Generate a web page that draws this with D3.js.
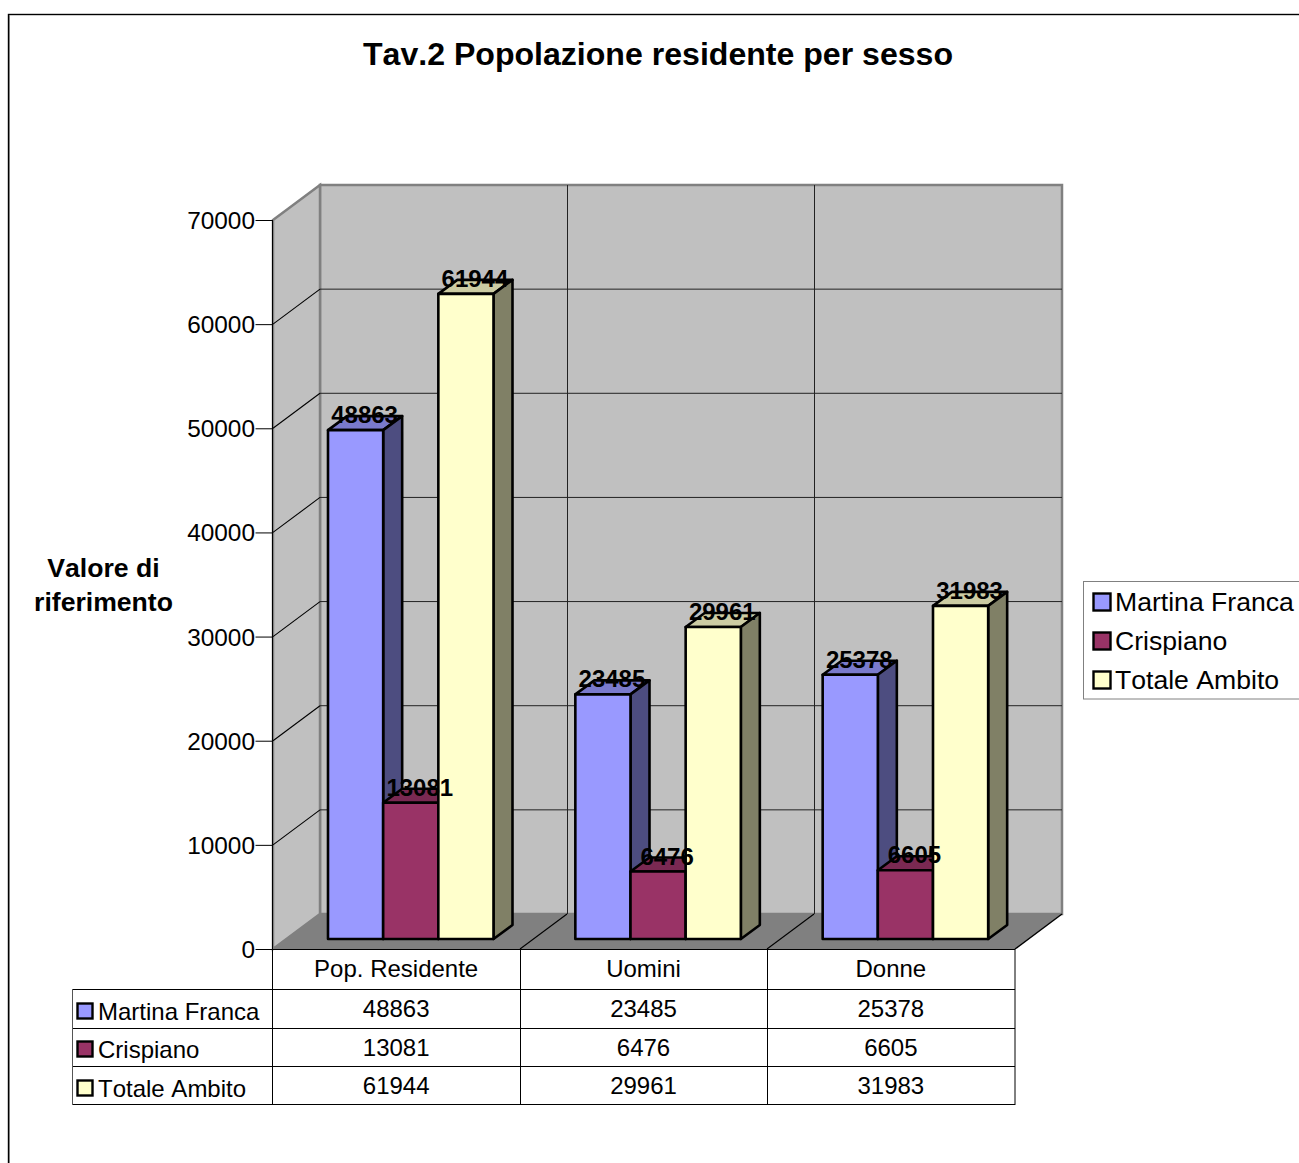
<!DOCTYPE html>
<html>
<head>
<meta charset="utf-8">
<style>
html,body{margin:0;padding:0;background:#fff;overflow:hidden}
svg{display:block}
text{font-family:"Liberation Sans",Arial,sans-serif;fill:#000;font-kerning:none}
</style>
<script src="https://cdn.jsdelivr.net/npm/d3@7/dist/d3.min.js"></script>
</head>
<body>
<svg id="chart" width="1299" height="1163"></svg>
<script>
const chartTitle = "Tav.2 Popolazione residente per sesso";
const axisTitle = ["Valore di", "riferimento"];
const categories = ["Pop. Residente", "Uomini", "Donne"];
const seriesNames = ["Martina Franca", "Crispiano", "Totale Ambito"];
const martinaFranca = [48863, 23485, 25378];
const crispiano = [13081, 6476, 6605];
const totaleAmbito = [61944, 29961, 31983];
const seriesValues = [martinaFranca, crispiano, totaleAmbito];
const yTicks = [0, 10000, 20000, 30000, 40000, 50000, 60000, 70000];
const fronts = ["#9999FF", "#993366", "#FFFFCC"];
const sides = ["#4D4D80", "#4D1A33", "#808066"];
const tops = ["#7A7ACC", "#7A2952", "#CCCCA3"];

const svg = d3.select("#chart");

// Oblique projection of the plot box
const plotLeft = 273, plotRight = 1015, depthX = 47, depthY = 35;
const y = d3.scaleLinear().domain([0, 70000]).range([949, 220]);
const x = d3.scaleBand().domain(categories).range([plotLeft, plotRight]);
const series = d3.scaleBand().domain(seriesNames).range([0, 165.5]);
const barDepthX = 19, barDepthY = 14, barInsetX = 55, barInsetY = 10;
const poly = pts => pts.map(p => p.join(",")).join(" ");

// Outer chart frame
svg.append("rect").attr("x", 8.5).attr("y", 14.5).attr("width", 1400).attr("height", 1300)
  .attr("fill", "#fff").attr("stroke", "#000").attr("stroke-width", 1.4);
svg.append("line").attr("x1", 9.5).attr("x2", 9.5).attr("y1", 15).attr("y2", 1163)
  .attr("stroke", "#808080").attr("stroke-width", 1);

svg.append("text").attr("x", 658).attr("y", 65).attr("text-anchor", "middle")
  .attr("font-size", 32.1).attr("font-weight", "bold").text(chartTitle);

svg.append("text").attr("text-anchor", "middle").attr("font-size", 26.6).attr("font-weight", "bold")
  .selectAll("tspan").data(axisTitle).join("tspan")
  .attr("x", 103.5).attr("y", (d, i) => 577 + i * 34).text(d => d);

// Walls and floor
const y0 = y(0), yMax = y(70000);
svg.append("polygon")
  .attr("points", poly([[plotLeft + depthX, yMax - depthY], [plotRight + depthX, yMax - depthY], [plotRight + depthX, y0 - depthY], [plotLeft + depthX, y0 - depthY]]))
  .attr("fill", "#C0C0C0").attr("stroke", "#808080").attr("stroke-width", 2.5);
svg.append("polygon")
  .attr("points", poly([[plotLeft, yMax], [plotLeft + depthX, yMax - depthY], [plotLeft + depthX, y0 - depthY], [plotLeft, y0]]))
  .attr("fill", "#C0C0C0").attr("stroke", "#808080").attr("stroke-width", 2.5);
svg.append("polygon")
  .attr("points", poly([[plotLeft, y0], [plotLeft + depthX, y0 - depthY], [plotRight + depthX, y0 - depthY], [plotRight, y0]]))
  .attr("fill", "#808080");

// Gridlines on the back and side walls
yTicks.filter(t => t > 0 && t < 70000).forEach(t => {
  svg.append("line").attr("x1", plotLeft + depthX).attr("x2", plotRight + depthX)
    .attr("y1", y(t) - depthY).attr("y2", y(t) - depthY).attr("stroke", "#222").attr("stroke-width", 1);
  svg.append("line").attr("x1", plotLeft).attr("x2", plotLeft + depthX)
    .attr("y1", y(t)).attr("y2", y(t) - depthY).attr("stroke", "#000").attr("stroke-width", 1.1);
});
categories.slice(1).forEach(c => {
  const cx = Math.floor(x(c));
  svg.append("line").attr("x1", cx + depthX + 0.5).attr("x2", cx + depthX + 0.5)
    .attr("y1", yMax - depthY).attr("y2", y0 - depthY).attr("stroke", "#222").attr("stroke-width", 1);
  svg.append("line").attr("x1", cx).attr("x2", cx + depthX)
    .attr("y1", y0).attr("y2", y0 - depthY).attr("stroke", "#000").attr("stroke-width", 1.1);
});
svg.append("line").attr("x1", plotRight).attr("x2", plotRight + depthX)
  .attr("y1", y0).attr("y2", y0 - depthY).attr("stroke", "#000").attr("stroke-width", 1.4);

// Value axis
const axis = d3.axisLeft(y).tickValues(yTicks).tickSize(17).tickPadding(0.5).tickFormat(d3.format("d"));
const axisG = svg.append("g").attr("transform", `translate(${plotLeft - 0.5},0)`).call(axis);
axisG.selectAll("text").attr("font-size", 24.4).attr("dy", "0.35em").attr("font-family", "Liberation Sans");
axisG.selectAll(".tick line").attr("stroke", "#000");
axisG.select(".domain").attr("stroke", "#000").attr("d", `M0,${y0}V${yMax}`);

// Bars: each one is a front face, a top and a right side
const barBase = y0 - barInsetY;
const barHeight = v => y0 - y(v);
const barsG = svg.append("g").attr("stroke", "#000").attr("stroke-width", 2.6).attr("stroke-linejoin", "round");
categories.forEach((c, ci) => {
  seriesNames.forEach((s, si) => {
    const v = seriesValues[si][ci];
    const left = x(c) + barInsetX + series(s);
    const right = left + series.bandwidth();
    const top = barBase - barHeight(v);
    barsG.append("polygon")
      .attr("points", poly([[left, top], [left + barDepthX, top - barDepthY], [right + barDepthX, top - barDepthY], [right, top]]))
      .attr("fill", tops[si]);
    barsG.append("polygon")
      .attr("points", poly([[right, top], [right + barDepthX, top - barDepthY], [right + barDepthX, barBase - barDepthY], [right, barBase]]))
      .attr("fill", sides[si]);
    barsG.append("rect").attr("x", left).attr("y", top)
      .attr("width", series.bandwidth()).attr("height", barHeight(v)).attr("fill", fronts[si]);
  });
});

// Value labels sit over the bar tops
categories.forEach((c, ci) => {
  seriesNames.forEach((s, si) => {
    const v = seriesValues[si][ci];
    const left = x(c) + barInsetX + series(s);
    svg.append("text").attr("x", left + series.bandwidth() / 2 + 9).attr("y", barBase - barHeight(v) - 7)
      .attr("text-anchor", "middle").attr("font-size", 24).attr("font-weight", "bold").text(v);
  });
});

// Data table under the plot
const rowLines = [949, 989, 1028, 1066, 1104];
const tableLeft = 72;
const tableG = svg.append("g").attr("stroke", "#000").attr("stroke-width", 1);
tableG.append("line").attr("x1", plotLeft).attr("x2", plotRight).attr("y1", rowLines[0] + 0.5).attr("y2", rowLines[0] + 0.5);
rowLines.slice(1).forEach(r => tableG.append("line").attr("x1", tableLeft).attr("x2", plotRight).attr("y1", r + 0.5).attr("y2", r + 0.5));
tableG.append("line").attr("x1", tableLeft + 0.5).attr("x2", tableLeft + 0.5).attr("y1", rowLines[1]).attr("y2", rowLines[4] + 1).attr("stroke", "#555");
[plotLeft - 1, ...categories.slice(1).map(c => Math.floor(x(c))), plotRight - 0.5].forEach(px =>
  tableG.append("line").attr("x1", px + 0.5).attr("x2", px + 0.5).attr("y1", rowLines[0]).attr("y2", rowLines[4] + 1));

categories.forEach((c, ci) => {
  const cx = x(c) + x.bandwidth() / 2;
  svg.append("text").attr("x", cx - 0.5).attr("y", 977).attr("text-anchor", "middle").attr("font-size", 24).text(c);
  seriesNames.forEach((s, si) => {
    svg.append("text").attr("x", cx - 0.5).attr("y", [1017, 1056, 1094][si]).attr("text-anchor", "middle")
      .attr("font-size", 24).text(seriesValues[si][ci]);
  });
});
seriesNames.forEach((s, si) => {
  svg.append("rect").attr("x", 77.5).attr("y", [1003.5, 1041.5, 1080.5][si]).attr("width", 15).attr("height", 15)
    .attr("fill", fronts[si]).attr("stroke", "#000").attr("stroke-width", 2.4);
  svg.append("text").attr("x", 98).attr("y", [1020, 1058, 1097][si]).attr("font-size", 24).text(s);
});

// Legend box, running off the right edge
svg.append("rect").attr("x", 1083.5).attr("y", 581.5).attr("width", 260).attr("height", 117.5)
  .attr("fill", "#fff").attr("stroke", "#808080").attr("stroke-width", 1);
seriesNames.forEach((s, si) => {
  svg.append("rect").attr("x", 1093.5).attr("y", [593.5, 632.5, 671.5][si]).attr("width", 17).attr("height", 17)
    .attr("fill", fronts[si]).attr("stroke", "#000").attr("stroke-width", 2.4);
  svg.append("text").attr("x", 1115).attr("y", [611, 650, 689][si]).attr("font-size", 26.6).text(s);
});
</script>
</body>
</html>
